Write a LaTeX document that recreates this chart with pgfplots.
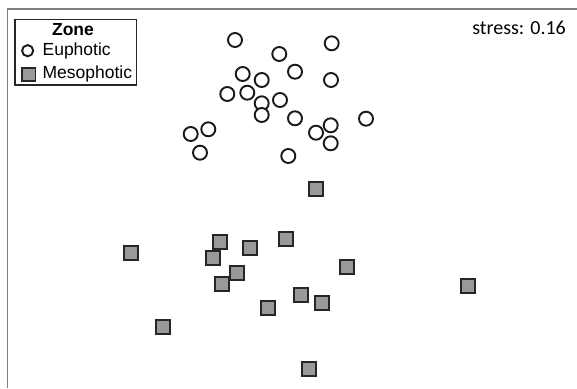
\documentclass[border=0pt]{standalone}
\usepackage{pgfplots}
\pgfplotsset{compat=1.18}
\usepackage{fontspec}
\setmainfont{Liberation Sans}
\newfontfamily\stressfont{Carlito}
\newcommand\legfont{\fontsize{17.5}{19}\selectfont}
\pgfplotsset{
 circleleg/.style={legend image code/.code={\path (0,0) (21.5pt,0); \draw[##1, mark size=5.6pt] plot coordinates {(7.5pt,0pt)};}},
 squareleg/.style={legend image code/.code={\path (0,0) (21.5pt,0); \draw[##1, mark size=6.8pt] plot coordinates {(8.5pt,0pt)};}},
}

\begin{document}
\begin{tikzpicture}
\useasboundingbox (0,0) rectangle (577pt,388pt);
\begin{axis}[
 at={(0,0)}, anchor=south west,
 scale only axis, width=577pt, height=388pt,
 xmin=0, xmax=577, ymin=-388, ymax=0,
 hide axis, clip=false,
 legend style={at={(axis cs:19,-42)}, anchor=north west, draw=none, fill=none,
   inner sep=0pt, row sep=6.7pt,
   nodes={font=\legfont, inner sep=0pt, text height=13pt, text depth=4pt}},
 legend cell align=left,
]
\addplot[only marks, mark=*, mark size=7pt, draw=black!90, fill=white, line width=1.9pt, circleleg]
 coordinates {
 (235,-40) (331.7,-43.3) (279.3,-54) (295,-71.7) (242.7,-74) (261.7,-80) (331,-80)
 (227.3,-94) (247.3,-92.7) (280,-100) (261.7,-103.3) (261.7,-115) (295,-118.3)
 (366,-118.7) (330.7,-125.3) (316,-132.7) (208.3,-129.3) (190.7,-134) (330.7,-143.3)
 (200,-152.7) (288.3,-156)
 };
\addlegendentry{\legfont Euphotic}
\addplot[only marks, mark=square*, mark size=7pt, draw=black!85, fill=black!40, line width=1.9pt, squareleg]
 coordinates {
 (315.7,-189) (220.3,-241.7) (285.7,-239.3) (250.3,-248.3) (130.7,-253) (213.3,-258.3)
 (346.7,-267.3) (237,-272.7) (222.3,-284) (467.7,-286) (301,-295) (322,-302.7)
 (268,-308.3) (162.7,-327) (309,-369)
 };
\addlegendentry{\legfont Mesophotic}
\end{axis}
\draw[black!85, line width=1.3pt] (15pt,368.7pt) rectangle (136.7pt,303pt);
\node[anchor=base, inner sep=0pt, font=\legfont\bfseries] at (73pt,352pt) {Zone};
\draw[black!50, line width=1.8pt] (7.5pt,0) -- (7.5pt,379pt) -- (577pt,379pt);
\node[anchor=base east, inner sep=0pt, font=\stressfont\fontsize{20}{22}\selectfont] at (566pt,353pt) {stress: 0.16};
\end{tikzpicture}
\end{document}
